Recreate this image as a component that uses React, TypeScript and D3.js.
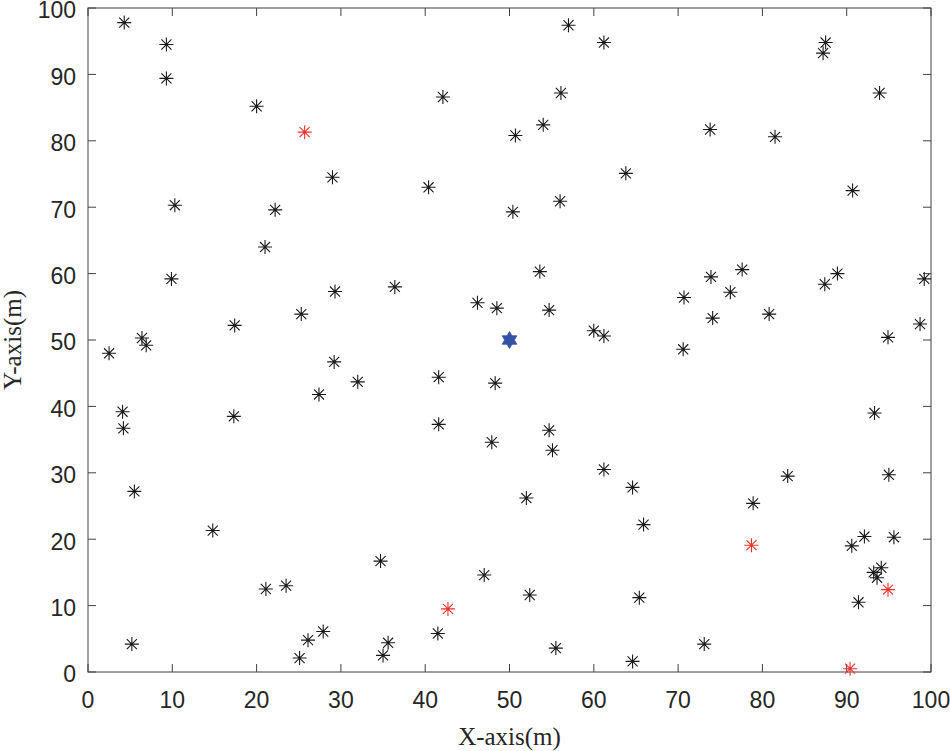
import { useEffect, useRef } from "react";
import * as d3 from "d3";

// nodes (x, y in metres)
const nodeX = [
  4.3, 9.3, 9.3, 20, 42.1, 29, 10.3, 22.2, 21, 9.9, 17.4, 25.3, 29.3, 36.4, 40.4, 50.7, 54, 56.1, 57, 61.2,
  50.4, 56, 63.8, 73.8, 81.5, 87.2, 87.5, 93.9, 90.7, 53.6, 46.2, 48.5, 54.7, 60, 61.2, 70.7, 70.6, 73.9,
  74.1, 76.2, 77.6, 80.8, 87.4, 88.9, 99.2, 98.7, 94.9, 2.5, 6.4, 6.9, 4.1, 4.2, 5.5, 17.3, 29.2, 27.4, 32,
  41.6, 41.6, 48.3, 47.9, 54.7, 55.1, 61.2, 52, 64.6, 65.9, 78.9, 83, 93.3, 95, 90.6, 92.1, 95.6, 93.2,
  93.6, 94.1, 91.4, 14.8, 21.1, 23.5, 34.7, 47, 52.4, 65.4, 5.2, 25.1, 26.1, 27.9, 35, 35.6, 41.5, 55.5,
  64.6, 73.1,
];
const nodeY = [
  97.8, 94.5, 89.4, 85.2, 86.6, 74.5, 70.3, 69.6, 64, 59.2, 52.2, 53.9, 57.3, 58, 73, 80.8, 82.4, 87.2, 97.4, 94.8,
  69.3, 70.9, 75.1, 81.7, 80.6, 93.2, 94.8, 87.2, 72.5, 60.3, 55.6, 54.8, 54.5, 51.4, 50.6, 56.4, 48.6, 59.5,
  53.3, 57.2, 60.6, 53.9, 58.4, 60, 59.2, 52.4, 50.4, 48, 50.3, 49.2, 39.2, 36.7, 27.2, 38.5, 46.7, 41.8, 43.7,
  44.4, 37.3, 43.5, 34.6, 36.4, 33.4, 30.5, 26.2, 27.8, 22.2, 25.4, 29.5, 39, 29.7, 19, 20.4, 20.3, 15,
  14.2, 15.7, 10.5, 21.3, 12.5, 13, 16.7, 14.6, 11.6, 11.2, 4.2, 2.1, 4.8, 6.1, 2.5, 4.4, 5.8, 3.6,
  1.6, 4.2,
];
// highlighted nodes (red)
const redX = [25.7, 42.7, 78.7, 94.9, 90.4];
const redY = [81.3, 9.5, 19.1, 12.4, 0.5];
// centre node (blue star)
const centreX = [50];
const centreY = [50];

const ticks = [0, 10, 20, 30, 40, 50, 60, 70, 80, 90, 100];

const W = 950;
const H = 751;
const margin = { top: 8, right: 19, bottom: 79, left: 88 };

const App = () => {
  const svgRef = useRef<SVGSVGElement>(null);

  useEffect(() => {
    const svg = d3.select(svgRef.current);
    svg.selectAll("*").remove();

    const x = d3.scaleLinear().domain([0, 100]).range([margin.left, W - margin.right]);
    const y = d3.scaleLinear().domain([0, 100]).range([H - margin.bottom, margin.top]);

    const axisColor = "#404040";
    const tickLen = 8;
    const tickFont = "Liberation Sans, Arial, sans-serif";

    // box
    svg
      .append("rect")
      .attr("x", x(0))
      .attr("y", y(100))
      .attr("width", x(100) - x(0))
      .attr("height", y(0) - y(100))
      .attr("fill", "none")
      .attr("stroke", axisColor)
      .attr("stroke-width", 1);

    // ticks, inward on all four sides
    const tk = svg.append("g").attr("stroke", axisColor).attr("stroke-width", 1);
    ticks.forEach((t) => {
      tk.append("line").attr("x1", x(t)).attr("x2", x(t)).attr("y1", y(0)).attr("y2", y(0) - tickLen);
      tk.append("line").attr("x1", x(t)).attr("x2", x(t)).attr("y1", y(100)).attr("y2", y(100) + tickLen);
      tk.append("line").attr("y1", y(t)).attr("y2", y(t)).attr("x1", x(0)).attr("x2", x(0) + tickLen);
      tk.append("line").attr("y1", y(t)).attr("y2", y(t)).attr("x1", x(100)).attr("x2", x(100) - tickLen);
    });

    // tick labels
    svg
      .append("g")
      .selectAll("text")
      .data(ticks)
      .join("text")
      .attr("x", (d) => x(d))
      .attr("y", y(0) + 36)
      .attr("text-anchor", "middle")
      .attr("font-family", tickFont)
      .attr("font-size", 23)
      .attr("fill", "#262626")
      .text((d) => d);

    svg
      .append("g")
      .selectAll("text")
      .data(ticks)
      .join("text")
      .attr("x", x(0) - 12)
      .attr("y", (d) => y(d))
      .attr("dy", "0.45em")
      .attr("text-anchor", "end")
      .attr("font-family", tickFont)
      .attr("font-size", 23)
      .attr("fill", "#262626")
      .text((d) => d);

    // axis titles
    svg
      .append("text")
      .attr("x", (x(0) + x(100)) / 2)
      .attr("y", 745)
      .attr("text-anchor", "middle")
      .attr("font-family", "Liberation Serif, Times New Roman, serif")
      .attr("font-size", 25)
      .attr("fill", "#262626")
      .text("X-axis(m)");

    svg
      .append("text")
      .attr("transform", `translate(21,${(y(0) + y(100)) / 2}) rotate(-90)`)
      .attr("text-anchor", "middle")
      .attr("font-family", "Liberation Serif, Times New Roman, serif")
      .attr("font-size", 25)
      .attr("fill", "#262626")
      .text("Y-axis(m)");

    // asterisk marker: plus and cross
    const r = 7;
    const rd = r * 0.72;
    const asterisk = `M${-r},0L${r},0M0,${-r}L0,${r}M${-rd},${-rd}L${rd},${rd}M${-rd},${rd}L${rd},${-rd}`;

    const drawStars = (xs: number[], ys: number[], color: string) => {
      svg
        .append("g")
        .selectAll("path")
        .data(xs.map((v, i) => [v, ys[i]]))
        .join("path")
        .attr("transform", (d) => `translate(${x(d[0])},${y(d[1])})`)
        .attr("d", asterisk)
        .attr("fill", "none")
        .attr("stroke", color)
        .attr("stroke-width", 1.1);
    };

    drawStars(nodeX, nodeY, "#1a1a1a");
    drawStars(redX, redY, "#f2302a");

    // hexagram for the centre node
    const R = 8.5;
    const hex: [number, number][] = [];
    for (let i = 0; i < 12; i++) {
      const a = (Math.PI / 6) * i - Math.PI / 2;
      const rr = i % 2 === 0 ? R : R / Math.sqrt(3);
      hex.push([rr * Math.cos(a), rr * Math.sin(a)]);
    }
    svg
      .append("g")
      .selectAll("path")
      .data(centreX.map((v, i) => [v, centreY[i]]))
      .join("path")
      .attr("transform", (d) => `translate(${x(d[0])},${y(d[1])})`)
      .attr("d", d3.line()(hex) + "Z")
      .attr("fill", "#3352a6")
      .attr("stroke", "#3352a6")
      .attr("stroke-width", 0.8);
  }, []);

  return (
    <svg
      ref={svgRef}
      width={W}
      height={H}
      style={{ position: "absolute", left: 0, top: 0, background: "#fff" }}
    />
  );
};

export default App;
